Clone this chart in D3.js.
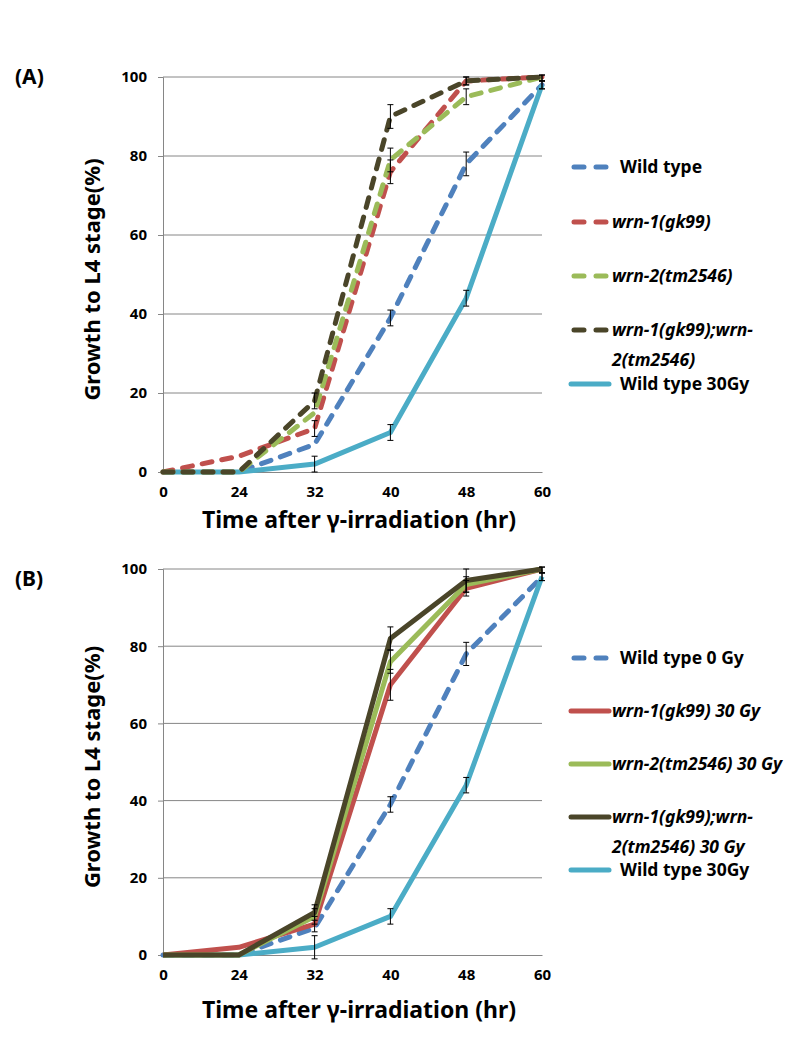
<!DOCTYPE html>
<html><head><meta charset="utf-8">
<script src="https://cdn.jsdelivr.net/npm/d3@7"></script>
<style>body{margin:0;background:#fff}svg{display:block}text{font-family:"Noto Sans","Open Sans",sans-serif}</style>
</head><body>
<svg id="chart" width="806" height="1039"></svg>
<script>
const categories = ["0","24","32","40","48","60"];
const yTicks = [0,20,40,60,80,100];

// Panel A series
const aWildType = [0,0,7,39,78,98];
const aWildTypeErr = [0,0,0,2,3,1];
const aWrn1 = [0,4,11,76,99,100];
const aWrn1Err = [0,0,2,3,1,0];
const aWrn2 = [0,0,15,79,95,100];
const aWrn2Err = [0,0,0,3,2,1];
const aDouble = [0,0,18,90,99,100];
const aDoubleErr = [0,0,2,3,1,1];
const aWild30 = [0,0,2,10,44,98];
const aWild30Err = [0,0,2,2,2,1];

// Panel B series
const bWildType0 = [0,0,7,39,78,98];
const bWildType0Err = [0,0,0,2,3,1];
const bWrn1 = [0,2,8,70,95,100];
const bWrn1Err = [0,0,2,4,2,0];
const bWrn2 = [0,0,10,76,96,100];
const bWrn2Err = [0,0,2,3,2,1];
const bDouble = [0,0,11,82,97,100];
const bDoubleErr = [0,0,2,3,3,1];
const bWild30 = [0,0,2,10,44,98];
const bWild30Err = [0,0,3,2,2,1];

const legendA = [
  {label:"Wild type", italic:false, lines:null},
  {label:"wrn-1(gk99)", italic:true, lines:null},
  {label:"wrn-2(tm2546)", italic:true, lines:null},
  {label:"wrn-1(gk99);wrn-", italic:true, lines:["wrn-1(gk99);wrn-","2(tm2546)"]},
  {label:"Wild type 30Gy", italic:false, lines:null}
];
const legendB = [
  {label:"Wild type 0 Gy", italic:false, lines:null},
  {label:"wrn-1(gk99) 30 Gy", italic:true, lines:null},
  {label:"wrn-2(tm2546) 30 Gy", italic:true, lines:null},
  {label:"wrn-1(gk99);wrn-", italic:true, lines:["wrn-1(gk99);wrn-","2(tm2546) 30 Gy"]},
  {label:"Wild type 30Gy", italic:false, lines:null}
];

const colors = {blue:"#4f81bd", red:"#c0504d", green:"#9bbb59", dark:"#4a4529", cyan:"#4bacc6"};

const panels = [
  {tag:"(A)", top:77, bottom:472, tagY:84, xLabY:528, legendY:[167,222,276,330,384], legend:legendA,
   series:[
    {v:aWildType, e:aWildTypeErr, c:colors.blue, dash:true},
    {v:aWild30, e:aWild30Err, c:colors.cyan, dash:false},
    {v:aWrn1, e:aWrn1Err, c:colors.red, dash:true},
    {v:aWrn2, e:aWrn2Err, c:colors.green, dash:true},
    {v:aDouble, e:aDoubleErr, c:colors.dark, dash:true}
   ], legendOrder:[0,2,3,4,1]},
  {tag:"(B)", top:569, bottom:955, tagY:586, xLabY:1018, legendY:[658,711,764,817,870], legend:legendB,
   series:[
    {v:bWildType0, e:bWildType0Err, c:colors.blue, dash:true},
    {v:bWild30, e:bWild30Err, c:colors.cyan, dash:false},
    {v:bWrn1, e:bWrn1Err, c:colors.red, dash:false},
    {v:bWrn2, e:bWrn2Err, c:colors.green, dash:false},
    {v:bDouble, e:bDoubleErr, c:colors.dark, dash:false}
   ], legendOrder:[0,2,3,4,1]}
];

const svg = d3.select("#chart");
const x = d3.scalePoint().domain(categories).range([163,542]);

panels.forEach(p => {
  const y = d3.scaleLinear().domain([0,100]).range([p.bottom,p.top]);
  const g = svg.append("g");

  g.selectAll("line.grid").data(yTicks.filter(t=>t>0)).join("line")
    .attr("x1",163).attr("x2",542).attr("y1",d=>y(d)).attr("y2",d=>y(d))
    .attr("stroke","#868686").attr("stroke-width",1);

  const ya = g.append("g").attr("transform","translate(163,0)")
    .call(d3.axisLeft(y).tickValues(yTicks).tickSize(5).tickPadding(11));
  ya.select(".domain").attr("stroke","#868686");
  ya.selectAll(".tick line").attr("stroke","#868686");
  ya.selectAll("text").attr("font-size",15).attr("font-weight","bold").attr("fill","#000");

  const xa = g.append("g").attr("transform",`translate(0,${p.bottom})`)
    .call(d3.axisBottom(x).tickSize(0).tickPadding(14));
  xa.select(".domain").attr("stroke","#868686");
  xa.selectAll("text").attr("font-size",15).attr("font-weight","bold").attr("fill","#000");

  const line = d3.line().x((d,i)=>x(categories[i])).y(d=>y(d));

  p.series.forEach(s => {
    g.append("path").datum(s.v).attr("d",line).attr("fill","none")
      .attr("stroke",s.c).attr("stroke-width",5)
      .attr("stroke-linecap", s.dash ? "round" : "butt")
      .attr("stroke-linejoin","round")
      .attr("stroke-dasharray", s.dash ? "10,10" : null);
  });
  p.series.forEach(s => {
    s.v.forEach((v,i) => {
      const e = s.e[i]; if (!e) return;
      const cx = x(categories[i]);
      const top = y(Math.min(100.5,v+e)), bot = y(v-e);
      const eg = g.append("g").attr("stroke","#000").attr("stroke-width",1);
      eg.append("line").attr("x1",cx).attr("x2",cx).attr("y1",top).attr("y2",bot);
      eg.append("line").attr("x1",cx-3).attr("x2",cx+3).attr("y1",top).attr("y2",top);
      eg.append("line").attr("x1",cx-3).attr("x2",cx+3).attr("y1",bot).attr("y2",bot);
    });
  });

  svg.append("text").attr("x",15).attr("y",p.tagY).text(p.tag)
    .attr("font-size",21).attr("font-weight","bold");

  const mid = (p.top+p.bottom)/2 + 5;
  svg.append("text").attr("transform",`translate(100,${mid}) rotate(-90)`)
    .attr("text-anchor","middle").attr("font-size",22).attr("font-weight","bold")
    .text("Growth to L4 stage(%)");
  svg.append("text").attr("x",359).attr("y",p.xLabY).attr("text-anchor","middle")
    .attr("font-size",23).attr("font-weight","bold").text("Time after γ-irradiation (hr)");

  p.legendOrder.forEach((si,k) => {
    const s = p.series[si];
    const item = p.legend[k];
    const ly = p.legendY[k];
    g.append("line").attr("x1", s.dash?574:571).attr("x2", s.dash?607:609).attr("y1",ly).attr("y2",ly)
      .attr("stroke",s.c).attr("stroke-width",5)
      .attr("stroke-linecap","round")
      .attr("stroke-dasharray", s.dash ? "10,12" : null);
    const tx = item.italic ? 612 : 620;
    const t = g.append("text").attr("x",tx).attr("y",ly+6).attr("font-size",17.5)
      .attr("font-weight","bold").attr("font-style", item.italic?"italic":"normal");
    if (item.lines) {
      t.append("tspan").attr("x",tx).text(item.lines[0]);
      t.append("tspan").attr("x",tx).attr("dy",30).text(item.lines[1]);
    } else t.text(item.label);
  });
});
</script>
</body></html>
